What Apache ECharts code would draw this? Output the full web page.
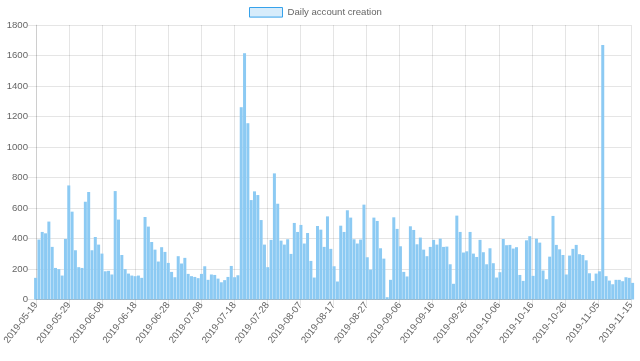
<!DOCTYPE html>
<html>
<head>
<meta charset="utf-8">
<script src="https://cdn.jsdelivr.net/npm/echarts@6/dist/echarts.min.js"></script>
<style>html,body{margin:0;padding:0;background:#fff;}#c{width:640px;height:361px;}</style>
</head>
<body>
<div id="c"></div>
<script>
const seriesName = 'Daily account creation';
const startDate = '2019-05-19';
const dayCount = 181;
const values = [
  142, 393, 443, 434, 511, 345, 207, 199, 157, 397,
  748, 576, 323, 212, 207, 641, 705, 323, 410, 360,
  301, 185, 188, 164, 711, 524, 292, 199, 170, 157,
  153, 157, 142, 541, 478, 377, 327, 249, 343, 312,
  240, 181, 146, 284, 236, 273, 168, 153, 148, 140,
  168, 218, 129, 164, 161, 137, 113, 127, 148, 220,
  146, 159, 1261, 1615, 1156, 652, 709, 685, 521, 360,
  212, 391, 827, 628, 386, 360, 395, 299, 502, 443,
  489, 367, 436, 253, 144, 482, 458, 345, 545, 332,
  218, 118, 484, 443, 585, 537, 395, 367, 393, 622,
  277, 196, 537, 515, 336, 268, 15, 129, 539, 463,
  349, 181, 151, 480, 456, 362, 406, 327, 284, 345,
  391, 360, 399, 345, 347, 231, 103, 550, 443, 308,
  316, 443, 301, 279, 391, 310, 231, 336, 238, 144,
  179, 397, 356, 358, 334, 343, 161, 122, 388, 415,
  155, 399, 373, 190, 133, 281, 548, 358, 329, 292,
  164, 288, 332, 358, 297, 292, 257, 172, 122, 170,
  185, 1669, 153, 124, 100, 129, 129, 120, 146, 142, 109
];
const yTicks = [0, 200, 400, 600, 800, 1000, 1200, 1400, 1600, 1800];

function pad(n){return n<10?'0'+n:''+n;}
const categories = [];
(function(){
  const d = new Date(startDate + 'T00:00:00Z');
  for (let i = 0; i < dayCount; i++) {
    const t = new Date(d.getTime() + i*86400000);
    categories.push(t.getUTCFullYear()+'-'+pad(t.getUTCMonth()+1)+'-'+pad(t.getUTCDate()));
  }
})();

const font = 'Liberation Sans, Arial, Helvetica, sans-serif';
const gridColor = 'rgba(0,0,0,0.1)';
const chart = echarts.init(document.getElementById('c'), null, {renderer:'canvas'});
chart.setOption({
  animation: false,
  textStyle: {fontFamily: font},
  legend: {
    left: 244, top: 2,
    itemWidth: 33, itemHeight: 9.6, itemGap: 10,
    textStyle: {fontSize: 9.6, color: '#666', fontFamily: font},
    data: [{name: seriesName, icon: 'rect',
      itemStyle: {color: 'rgba(54,162,235,0.2)', borderColor: 'rgb(54,162,235)', borderWidth: 1}}]
  },
  grid: [
    {left: 34, right: 9, top: 25, bottom: 61.5},
    {left: 35.6, right: 7.4, top: 25, bottom: 61.5}
  ],
  xAxis: [
    {
      type: 'category', gridIndex: 0, data: categories, boundaryGap: false,
      axisLine: {lineStyle: {color: 'rgba(0,0,0,0.25)'}},
      axisTick: {show: true, interval: 9, length: 6, lineStyle: {color: gridColor}},
      axisLabel: {interval: 9, rotate: 52, fontSize: 9.6, color: '#666', fontFamily: font, margin: 4},
      splitLine: {show: true, interval: 9, lineStyle: {color: gridColor}}
    },
    {type: 'category', gridIndex: 1, data: categories, boundaryGap: false, show: false}
  ],
  yAxis: [
    {
      type: 'value', gridIndex: 0, min: yTicks[0], max: yTicks[yTicks.length-1], interval: 200,
      axisLine: {show: true, lineStyle: {color: gridColor}},
      axisTick: {show: true, length: 8, lineStyle: {color: gridColor}},
      axisLabel: {fontSize: 9.6, color: '#666', fontFamily: font, margin: 8,
        formatter: function(v){ return String(v); }},
      splitLine: {show: true, lineStyle: {color: gridColor}}
    },
    {type: 'value', gridIndex: 1, min: yTicks[0], max: yTicks[yTicks.length-1], show: false}
  ],
  series: [{
    name: seriesName, type: 'bar', xAxisIndex: 1, yAxisIndex: 1,
    data: values, barWidth: 3,
    itemStyle: {color: '#8ccaf3'}
  }]
});
</script>
</body>
</html>
